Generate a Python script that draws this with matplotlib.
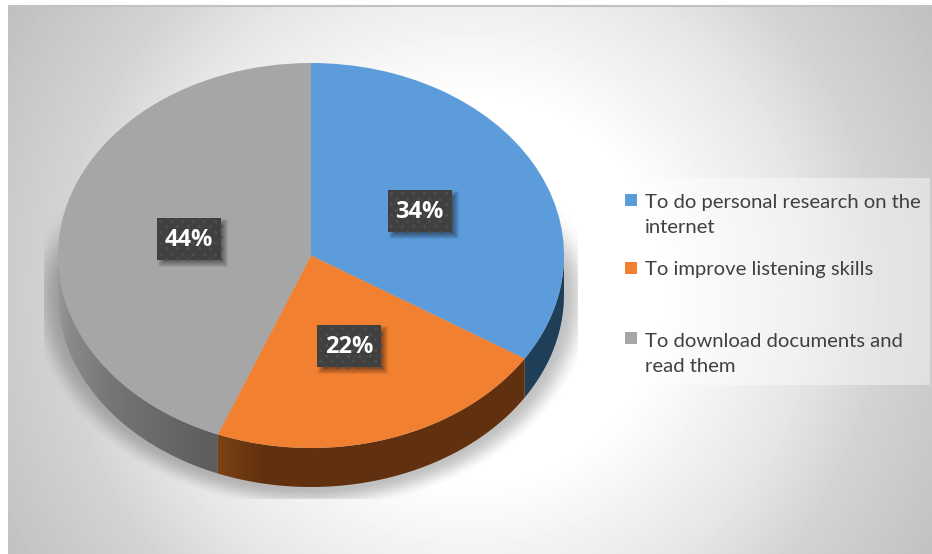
"""Pie chart of reasons for internet use, drawn with a 3D-style rim and shadow."""

import numpy as np
import matplotlib
matplotlib.use("Agg")
import matplotlib.pyplot as plt
from matplotlib.colors import to_rgb
from matplotlib.patches import Polygon, Rectangle

W, H = 932, 554

categories = [
    "To do personal research on the\ninternet",
    "To improve listening skills",
    "To download documents and\nread them",
]
shares = [34, 22, 44]
colors = ["#5d9cdb", "#f28031", "#a6a6a6"]

# rim colour stops (pixel x, colour), one list per slice
rim_stops = [
    [(520, "#1f3e58"), (566, "#1f3e58")],
    [(212, "#7e4416"), (262, "#62310f"), (530, "#61300f")],
    [(56, "#9c9c9c"), (70, "#8a8a8a"), (110, "#767676"), (160, "#696969"), (214, "#5d5d5d")],
]

# baseline of the last line of each legend entry
legend_baselines = [233, 275, 372]
legend_swatches = [194, 262, 332]

# pie geometry in pixels
cx, cy, rx, ry = 311, 255.5, 253, 192.5
depth = 39


def ramp(x, stops):
    xs = [s[0] for s in stops]
    rgb = np.array([to_rgb(s[1]) for s in stops])
    return np.stack([np.interp(x, xs, rgb[:, i]) for i in range(3)], axis=-1)


def smoothstep(t):
    t = np.clip(t, 0, 1)
    return t * t * (3 - 2 * t)


fig = plt.figure(figsize=(W / 100, H / 100), dpi=100, facecolor="white")
plt.rcParams["font.family"] = ["Lato", "DejaVu Sans"]

bg = fig.add_axes([0, 0, 1, 1], zorder=0)
bg.set_xlim(0, W)
bg.set_ylim(H, 0)
bg.axis("off")

# radial grey backdrop
yy, xx = np.mgrid[5:H, 8:W]
dist = np.hypot(xx - 470, yy - 290)
grey = np.interp(dist, [190, 340, 410, 545], [1.0, 0.90, 0.83, 0.75])
bg.imshow(grey, extent=(8, W, H, 5), cmap="gray", vmin=0, vmax=1, aspect="auto",
          zorder=0, interpolation="bilinear")
bg.plot([8, W], [5.5, 5.5], color="#c2c2c2", lw=1.5, zorder=1, solid_capstyle="butt")

# soft shadow under the rim, cut off by its own rectangle
yy, xx = np.mgrid[100:499, 44:578]
norm = np.hypot((xx - cx) / rx, (yy - (cy + depth)) / ry)
edge = (norm - 1) * rx
alpha = 0.24 * (1 - smoothstep(edge / 30)) * smoothstep((yy - 190) / 90)
shadow = np.zeros(alpha.shape + (4,))
shadow[..., 3] = alpha
bg.imshow(shadow, extent=(44, 578, 499, 100), aspect="auto", zorder=2)

# top face
pie_ax = fig.add_axes([(cx - rx) / W, 1 - (cy + ry) / H, 2 * rx / W, 2 * ry / H], zorder=2)
wedges, _ = pie_ax.pie(shares, colors=colors, startangle=90, counterclock=False,
                       wedgeprops={"linewidth": 0})
pie_ax.set_aspect("auto")
pie_ax.set_xlim(-1, 1)
pie_ax.set_ylim(-1, 1)
pie_ax.patch.set_alpha(0)

# front rim of every slice that reaches the lower half
for wedge, stops in zip(wedges, rim_stops):
    a, b = max(wedge.theta1, -180), min(wedge.theta2, 0)
    if a >= b:
        continue
    t = np.radians(np.linspace(a, b, 120))
    arc_x = cx + rx * np.cos(t)
    arc_y = cy - ry * np.sin(t)
    poly = np.vstack([np.column_stack([arc_x, arc_y]),
                      np.column_stack([arc_x[::-1], arc_y[::-1] + depth])])
    columns = np.arange(int(arc_x.min()) - 1, int(arc_x.max()) + 2)
    strip = ramp(columns + 0.5, stops)[np.newaxis, :, :]
    im = bg.imshow(strip, extent=(columns[0], columns[-1] + 1, H, 0), aspect="auto", zorder=3)
    clip = Polygon(poly, closed=True, transform=bg.transData, facecolor="none", edgecolor="none")
    bg.add_patch(clip)
    im.set_clip_path(clip)
bg.set_xlim(0, W)
bg.set_ylim(H, 0)

# overlay for labels and legend, in pixel coordinates
top = fig.add_axes([0, 0, 1, 1], zorder=3)
top.set_xlim(0, W)
top.set_ylim(H, 0)
top.axis("off")

box_w, box_h = 64, 42
for wedge, share in zip(wedges, shares):
    mid = np.radians((wedge.theta1 + wedge.theta2) / 2)
    lx = cx + 0.49 * rx * np.cos(mid)
    ly = cy - 0.49 * ry * np.sin(mid) + 1
    x0, y0 = lx - box_w / 2, ly - box_h / 2

    # blurred drop shadow built from stacked rectangles
    for grow in np.arange(3, -3.5, -1):
        top.add_patch(Rectangle((x0 + 4 - grow, y0 + 4 - grow), box_w + 2 * grow, box_h + 2 * grow,
                                facecolor="black", edgecolor="none", alpha=0.07, zorder=1))
    top.add_patch(Rectangle((x0, y0), box_w, box_h, facecolor="#404040", edgecolor="none", zorder=2))

    # dotted fill of the label box
    dots_x, dots_y = [], []
    for row, dy in enumerate(np.arange(3, box_h, 5.5)):
        for dx in np.arange(3 + (row % 2) * 5.5, box_w, 11):
            dots_x.append(x0 + dx)
            dots_y.append(y0 + dy)
    top.scatter(dots_x, dots_y, s=5, color="#4e4e4e", linewidths=0, zorder=3)

    top.text(lx, ly + 1, f"{share}%", color="white", fontsize=17, fontweight="bold",
             family=["Open Sans", "DejaVu Sans"], ha="center", va="center", zorder=4)

# legend panel
top.add_patch(Rectangle((613, 178), 317, 207, facecolor="white", edgecolor="none", alpha=0.42, zorder=1))
for label, color, base, swatch in zip(categories, colors, legend_baselines, legend_swatches):
    top.add_patch(Rectangle((625, swatch), 12, 12, facecolor=color, edgecolor="none", zorder=2))
    top.text(645, base, label, color="#404040", fontsize=14.55, ha="left", va="baseline",
             linespacing=1.6, zorder=3)

fig.savefig("out.png", dpi=100)
